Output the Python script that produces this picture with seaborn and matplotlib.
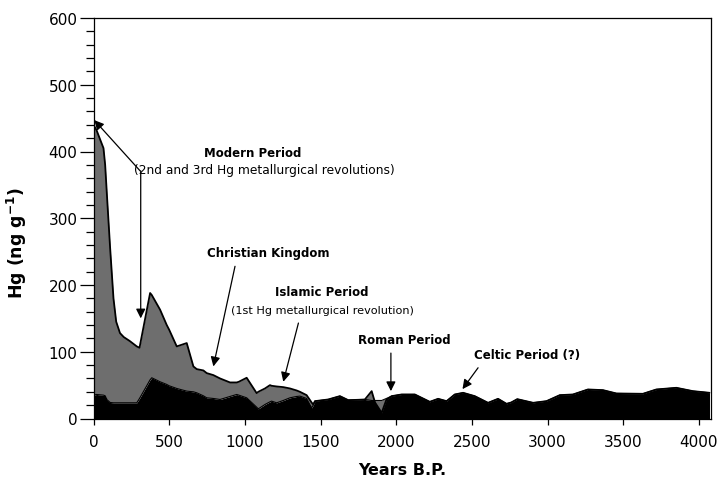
import matplotlib
matplotlib.use("Agg")
import matplotlib.pyplot as plt
import numpy as np
import pandas as pd
import seaborn as sns

# Sediment core record: age (years before present) and mercury concentration
years = [0, 20, 66, 77, 90, 110, 132, 150, 175, 200, 240, 286, 304, 374, 385,
         440, 484, 500, 550, 616, 660, 682, 726, 748, 792, 836, 858, 902, 946,
         960, 1012, 1078, 1089, 1133, 1166, 1177, 1210, 1254, 1298, 1342, 1364,
         1408, 1441, 1452, 1463, 1551, 1628, 1683, 1749, 1793, 1838, 1860, 1904,
         1935, 1970, 2036, 2123, 2168, 2222, 2277, 2333, 2387, 2442, 2519, 2607,
         2673, 2729, 2760, 2800, 2905, 2993, 3081, 3168, 3267, 3366, 3455, 3630,
         3719, 3851, 3960, 4070]

# Total Hg (grey envelope)
hg_total = [440, 432, 405, 380, 330, 255, 180, 145, 128, 122, 116, 108, 106, 188, 185,
            163, 140, 133, 108, 113, 78, 74, 72, 68, 65, 60, 58, 54, 54,
            55, 61, 38, 40, 45, 50, 49, 48, 47, 45, 42, 40,
            35, 24, 21, 26, 28.5, 33.5, 27.5, 28, 28.5, 41, 24, 8.5,
            28, 33.5, 36, 36, 31, 25, 29.5, 26, 36, 38.5, 33.5, 23.5,
            29.5, 22, 24, 29, 23.5, 26, 35, 36, 43.5, 42.5, 37.5, 37,
            43.5, 46, 41, 38.5]

# Background Hg (black base)
hg_background = [35, 36, 35, 34, 28, 24, 23.5, 23.5, 23.5, 23.5, 23.5, 23.5, 30, 58, 61,
                 55, 51, 49, 45, 41, 40, 38.5, 34, 31, 30, 28.5, 30, 33, 36,
                 35, 31, 17, 14.5, 21, 25, 26, 23.5, 27, 31, 33, 33.5,
                 30, 16, 20, 26, 28.5, 33.5, 27.5, 28, 28.5, 27, 27, 27,
                 30, 33.5, 36, 36, 31, 25, 29.5, 26, 36, 38.5, 33.5, 23.5,
                 29.5, 22, 24, 29, 23.5, 26, 35, 36, 43.5, 42.5, 37.5, 37,
                 43.5, 46, 41, 38.5]

x_ticks = [0, 500, 1000, 1500, 2000, 2500, 3000, 3500, 4000]
y_ticks = [0, 100, 200, 300, 400, 500, 600]

sns.set_style("ticks")
plt.rcParams["font.family"] = ["DejaVu Sans"]
plt.rcParams["text.color"] = "black"
plt.rcParams["axes.labelcolor"] = "black"
plt.rcParams["xtick.color"] = "black"
plt.rcParams["ytick.color"] = "black"

df = pd.DataFrame({"years": years, "total": hg_total, "background": hg_background})

fig = plt.figure(figsize=(7.2, 4.81), dpi=100)
ax = fig.add_axes([93.5 / 720, 1 - 419.5 / 481, (711 - 93.5) / 720, (419.5 - 19) / 481])

ax.fill_between(df["years"], 0, df["background"], color="black", lw=0, zorder=1)
ax.fill_between(df["years"], df["background"], df["total"], color="#6e6e6e", lw=0, zorder=2)
sns.lineplot(data=df, x="years", y="background", color="black", lw=0.8, ax=ax, zorder=3)
sns.lineplot(data=df, x="years", y="total", color="black", lw=1.3, ax=ax, zorder=3)

ax.set_xlim(0, 4080)
ax.set_ylim(0, 600)
ax.set_xticks(x_ticks)
ax.set_yticks(y_ticks)
ax.set_yticks(np.arange(0, 601, 20), minor=True)
ax.tick_params(axis="y", which="major", direction="out", length=10, width=0.9, pad=1.5,
               labelsize=11)
ax.tick_params(axis="y", which="minor", direction="out", length=6, width=0.9)
ax.tick_params(axis="x", which="major", direction="out", length=4, width=0.9, pad=7.5,
               labelsize=11)
for side in ["left", "right", "top", "bottom"]:
    ax.spines[side].set_visible(True)
    ax.spines[side].set_linewidth(0.9)
    ax.spines[side].set_color("black")

ax.set_xlabel("Years B.P.", fontsize=11.5, fontweight="bold", labelpad=9)
ax.set_ylabel(r"Hg (ng g$^{\mathbf{-1}}$)", fontsize=12.5, fontweight="bold")
ax.yaxis.set_label_coords(-0.105, 0.44)

bold = dict(fontweight="bold", fontsize=8.5, ha="center", va="center")
arrow = dict(arrowstyle="-|>", color="black", lw=0.9, mutation_scale=14,
             shrinkA=0, shrinkB=0)

ax.text(1053, 398, "Modern Period", **bold)
ax.text(1130, 373, "(2nd and 3rd Hg metallurgical revolutions)",
        fontsize=8.8, ha="center", va="center")
ax.annotate("", xy=(5, 447), xytext=(308, 371), arrowprops=arrow)
ax.annotate("", xy=(312, 150), xytext=(312, 371), arrowprops=arrow)

ax.text(1156, 249, "Christian Kingdom", **bold)
ax.annotate("", xy=(792, 78), xytext=(935, 228), arrowprops=arrow)

ax.text(1511, 191, "Islamic Period", **bold)
ax.text(1511, 163, "(1st Hg metallurgical revolution)",
        fontsize=8.1, ha="center", va="center")
ax.annotate("", xy=(1254, 55), xytext=(1354, 143), arrowprops=arrow)

ax.text(2055, 118, "Roman Period", **bold)
ax.annotate("", xy=(1965, 41), xytext=(1965, 98), arrowprops=arrow)

ax.text(2866, 96, "Celtic Period (?)", **bold)
ax.annotate("", xy=(2438, 44), xytext=(2541, 76), arrowprops=arrow)

fig.savefig("out.png", dpi=100)
